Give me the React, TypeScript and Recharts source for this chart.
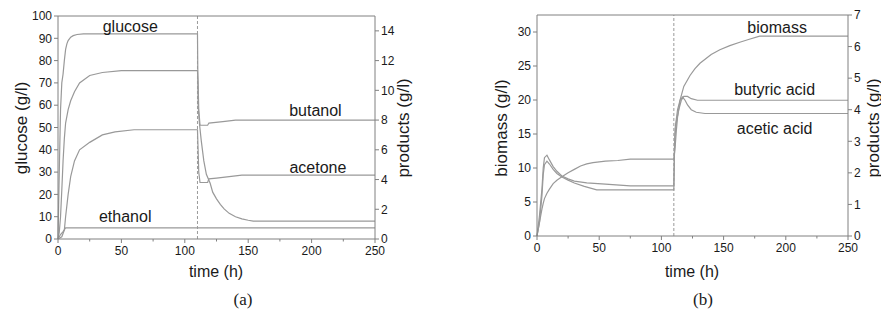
import { LineChart, Line, XAxis, YAxis, ReferenceLine, ReferenceDot } from "recharts";

// panel (a): glucose in g/l (left axis), products in g/l (right axis); [time h, value]
const glucose = [
  [0, 0], [0.5, 15], [1, 30], [2, 58], [3, 70], [4, 74], [5, 80], [6, 85], [7, 87.5], [8, 89],
  [10, 90.5], [12, 91.2], [15, 91.7], [20, 92], [110, 92], [110.5, 60], [111.5, 52], [113, 44],
  [115, 35], [117, 29], [120, 25], [122, 21], [125, 18], [128, 15.5], [131, 13.5], [135, 11.5],
  [140, 10], [145, 9], [150, 8.4], [154, 8], [250, 8],
];
const butanol = [
  [0, 0], [1, 0.45], [2, 1.5], [3, 3.3], [4, 5.25], [5, 6.75], [6, 7.8], [8, 8.7], [10, 9.3],
  [13, 9.9], [17, 10.5], [25, 11.0], [35, 11.2], [50, 11.33], [110, 11.33], [110.5, 10.5],
  [111, 8.7], [112, 7.65], [118, 7.65], [119, 7.8], [130, 7.9], [140, 8.0], [250, 8.0],
];
const acetone = [
  [0, 0], [3, 0.15], [5, 0.6], [6, 1.5], [8, 3.0], [10, 4.2], [13, 5.25], [17, 6.0], [25, 6.5],
  [35, 7.0], [45, 7.2], [60, 7.35], [110, 7.35], [110.5, 6.0], [111, 4.5], [112, 3.8], [118, 3.8],
  [119, 4.05], [125, 4.1], [145, 4.3], [250, 4.3],
];
const ethanol = [[0, 0], [1, 0.15], [2, 0.3], [4, 0.5], [6, 0.75], [250, 0.75]];

// panel (b): biomass (left axis), acids (right axis)
const biomass = [
  [0, 0], [1, 1], [2, 2], [3, 3], [4, 4], [5, 4.8], [6, 5.5], [8, 6.3], [10, 6.9], [13, 7.7],
  [16, 8.2], [20, 8.7], [25, 9.3], [30, 9.8], [35, 10.3], [40, 10.6], [45, 10.8], [55, 11.0],
  [65, 11.1], [75, 11.3], [110, 11.3], [111, 13], [112, 15.5], [113, 17.5], [115, 20], [118, 22],
  [123, 23.6], [127, 24.6], [131, 25.4], [140, 26.7], [147, 27.4], [155, 28], [163, 28.5],
  [170, 28.9], [179, 29.4], [250, 29.4],
];
const butyric = [
  [0, 0], [2, 0.65], [4, 1.5], [5, 2.15], [6, 2.48], [8, 2.56], [10, 2.41], [13, 2.2], [16, 2.05],
  [20, 1.9], [25, 1.81], [30, 1.74], [40, 1.68], [55, 1.64], [75, 1.59], [110, 1.59], [110.5, 2.6],
  [111, 3.2], [112, 3.6], [114, 4.0], [116, 4.3], [118, 4.42], [121, 4.42], [124, 4.35],
  [129, 4.3], [250, 4.3],
];
const acetic = [
  [0, 0], [2, 0.43], [4, 1.29], [5, 1.94], [6, 2.26], [8, 2.37], [10, 2.28], [13, 2.11], [16, 1.98],
  [20, 1.87], [25, 1.77], [30, 1.68], [38, 1.57], [48, 1.46], [110, 1.46], [110.5, 2.8], [111, 3.4],
  [113, 4.0], [115, 4.3], [117, 4.4], [119, 4.3], [121, 4.15], [124, 4.0], [128, 3.92], [135, 3.88],
  [250, 3.88],
];

const timeTicks = [0, 25, 50, 75, 100, 125, 150, 175, 200, 225, 250];
const glucoseTicks = [0, 10, 20, 30, 40, 50, 60, 70, 80, 90, 100];
const productTicksA = [0, 2, 4, 6, 8, 10, 12, 14];
const biomassTicks = [0, 5, 10, 15, 20, 25, 30];
const productTicksB = [0, 1, 2, 3, 4, 5, 6, 7];

const toPts = (arr: number[][]) => arr.map(([t, v]) => ({ t, v }));

const FONT = "'Liberation Sans', Arial, sans-serif";
const AXIS = "#808080";
const CURVE = "#999999";
const TXT = "#1a1a1a";

function TimeTick(props: any) {
  const { x, y, payload } = props;
  const major = payload.value % 50 === 0;
  return (
    <g>
      <line x1={x} x2={x} y1={y} y2={y + (major ? 4 : 2.5)} stroke={AXIS} />
      {major && (
        <text x={x} y={y + 7} dy="0.71em" textAnchor="middle" fontSize={12} fill={TXT} fontFamily={FONT}>
          {payload.value}
        </text>
      )}
    </g>
  );
}

const tickStyle = { fontSize: 12, fill: TXT, fontFamily: FONT };
const seriesLabel = (value: string) => ({
  value,
  position: "center" as const,
  fontSize: 16,
  fill: TXT,
  fontFamily: FONT,
});

function curve(data: number[][], axis: string, key: string) {
  return (
    <Line
      key={key}
      data={toPts(data)}
      dataKey="v"
      yAxisId={axis}
      type="linear"
      stroke={CURVE}
      strokeWidth={1.2}
      dot={false}
      isAnimationActive={false}
    />
  );
}

function Rotated({ x, y, text }: { x: number; y: number; text: string }) {
  return (
    <div
      style={{
        position: "absolute",
        left: x,
        top: y,
        transform: "translate(-50%, -50%) rotate(-90deg)",
        whiteSpace: "nowrap",
        fontFamily: FONT,
        fontSize: 17,
        color: TXT,
      }}
    >
      {text}
    </div>
  );
}

function Caption({ x, y, text, size = 16, serif = false }: any) {
  return (
    <div
      style={{
        position: "absolute",
        left: x,
        top: y,
        transform: "translate(-50%, -50%)",
        whiteSpace: "nowrap",
        fontFamily: serif ? "'Liberation Serif', 'Times New Roman', serif" : FONT,
        fontSize: size,
        color: TXT,
      }}
    >
      {text}
    </div>
  );
}

export default function App() {
  return (
    <div style={{ position: "absolute", left: 0, top: 0, width: 881, height: 336, background: "#fff", overflow: "hidden" }}>
      <div style={{ position: "absolute", left: 0, top: 0 }}>
        <LineChart width={440} height={336} margin={{ top: 16, right: 0, bottom: 0, left: 0 }}>
          <XAxis
            dataKey="t"
            type="number"
            domain={[0, 250]}
            ticks={timeTicks}
            tick={<TimeTick />}
            tickLine={false}
            tickSize={0}
            tickMargin={0}
            height={97}
            stroke={AXIS}
            allowDuplicatedCategory={false}
          />
          <YAxis yAxisId="l" domain={[0, 100]} ticks={glucoseTicks} width={58} stroke={AXIS} tickSize={4} tickMargin={2} tick={tickStyle} />
          <YAxis yAxisId="r" orientation="right" domain={[0, 15]} ticks={productTicksA} width={65} stroke={AXIS} tickSize={4} tickMargin={2} tick={tickStyle} />
          <ReferenceLine yAxisId="l" y={100} stroke={AXIS} />
          <ReferenceLine yAxisId="l" x={110} stroke={AXIS} strokeDasharray="3 2" strokeWidth={0.8} />
          {curve(glucose, "l", "glucose")}
          {curve(butanol, "r", "butanol")}
          {curve(acetone, "r", "acetone")}
          {curve(ethanol, "r", "ethanol")}
          <ReferenceDot yAxisId="l" x={57} y={95.5} r={0} stroke="none" fill="none" label={seriesLabel("glucose")} />
          <ReferenceDot yAxisId="l" x={203} y={57.8} r={0} stroke="none" fill="none" label={seriesLabel("butanol")} />
          <ReferenceDot yAxisId="l" x={205} y={32.3} r={0} stroke="none" fill="none" label={seriesLabel("acetone")} />
          <ReferenceDot yAxisId="l" x={53} y={10.3} r={0} stroke="none" fill="none" label={seriesLabel("ethanol")} />
        </LineChart>
      </div>
      <div style={{ position: "absolute", left: 440, top: 0 }}>
        <LineChart width={441} height={336} margin={{ top: 15, right: 0, bottom: 0, left: 0 }}>
          <XAxis
            dataKey="t"
            type="number"
            domain={[0, 250]}
            ticks={timeTicks}
            tick={<TimeTick />}
            tickLine={false}
            tickSize={0}
            tickMargin={0}
            height={100}
            stroke={AXIS}
            allowDuplicatedCategory={false}
          />
          <YAxis yAxisId="l" domain={[0, 32.5]} ticks={biomassTicks} width={97} stroke={AXIS} tickSize={4} tickMargin={2} tick={tickStyle} />
          <YAxis yAxisId="r" orientation="right" domain={[0, 7]} ticks={productTicksB} width={33} stroke={AXIS} tickSize={4} tickMargin={2} tick={tickStyle} />
          <ReferenceLine yAxisId="l" y={32.5} stroke={AXIS} />
          <ReferenceLine yAxisId="l" x={110} stroke={AXIS} strokeDasharray="3 2" strokeWidth={0.8} />
          {curve(biomass, "l", "biomass")}
          {curve(butyric, "r", "butyric")}
          {curve(acetic, "r", "acetic")}
          <ReferenceDot yAxisId="l" x={193} y={30.7} r={0} stroke="none" fill="none" label={seriesLabel("biomass")} />
          <ReferenceDot yAxisId="l" x={191} y={21.5} r={0} stroke="none" fill="none" label={seriesLabel("butyric acid")} />
          <ReferenceDot yAxisId="l" x={191} y={15.9} r={0} stroke="none" fill="none" label={seriesLabel("acetic acid")} />
        </LineChart>
      </div>
      <Rotated x={22} y={128} text="glucose (g/l)" />
      <Rotated x={404} y={128} text="products (g/l)" />
      <Rotated x={502} y={128} text="biomass (g/l)" />
      <Rotated x={874} y={128} text="products (g/l)" />
      <Caption x={216} y={272} text="time (h)" />
      <Caption x={692} y={272} text="time (h)" />
      <Caption x={243} y={300} text="(a)" size={17} serif />
      <Caption x={703} y={300} text="(b)" size={17} serif />
    </div>
  );
}
